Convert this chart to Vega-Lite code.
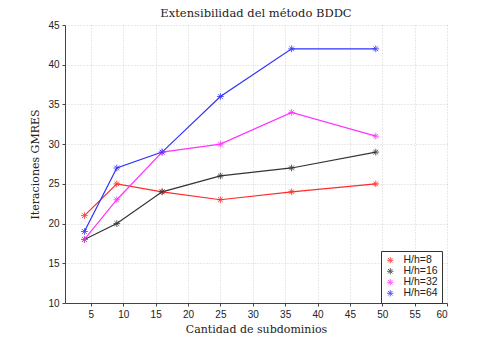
{
  "$schema": "https://vega.github.io/schema/vega-lite/v6.json",
  "width": 382,
  "height": 278,
  "autosize": "none",
  "padding": {"left": 65, "top": 25, "right": 47, "bottom": 37},
  "background": "white",
  "title": {"text": "Extensibilidad del método BDDC", "font": "DejaVu Serif", "fontSize": 11.5, "fontWeight": "normal", "color": "#222", "offset": 1},
  "data": {"values": [
    {"serie": "H/h=8", "n": 4, "it": 21}, {"serie": "H/h=8", "n": 9, "it": 25}, {"serie": "H/h=8", "n": 16, "it": 24}, {"serie": "H/h=8", "n": 25, "it": 23}, {"serie": "H/h=8", "n": 36, "it": 24}, {"serie": "H/h=8", "n": 49, "it": 25},
    {"serie": "H/h=16", "n": 4, "it": 18}, {"serie": "H/h=16", "n": 9, "it": 20}, {"serie": "H/h=16", "n": 16, "it": 24}, {"serie": "H/h=16", "n": 25, "it": 26}, {"serie": "H/h=16", "n": 36, "it": 27}, {"serie": "H/h=16", "n": 49, "it": 29},
    {"serie": "H/h=32", "n": 4, "it": 18}, {"serie": "H/h=32", "n": 9, "it": 23}, {"serie": "H/h=32", "n": 16, "it": 29}, {"serie": "H/h=32", "n": 25, "it": 30}, {"serie": "H/h=32", "n": 36, "it": 34}, {"serie": "H/h=32", "n": 49, "it": 31},
    {"serie": "H/h=64", "n": 4, "it": 19}, {"serie": "H/h=64", "n": 9, "it": 27}, {"serie": "H/h=64", "n": 16, "it": 29}, {"serie": "H/h=64", "n": 25, "it": 36}, {"serie": "H/h=64", "n": 36, "it": 42}, {"serie": "H/h=64", "n": 49, "it": 42}
  ]},
  "encoding": {
    "x": {"field": "n", "type": "quantitative", "scale": {"domain": [1, 60], "nice": false, "zero": false},
      "axis": {"title": "Cantidad de subdominios", "values": [5,10,15,20,25,30,35,40,45,50,55,60]}},
    "y": {"field": "it", "type": "quantitative", "scale": {"domain": [10, 45], "nice": false, "zero": false},
      "axis": {"title": "Iteraciones GMRES", "values": [10,15,20,25,30,35,40,45]}},
    "color": {"field": "serie", "type": "nominal",
      "scale": {"domain": ["H/h=8", "H/h=16", "H/h=32", "H/h=64"], "range": ["#ff2a2a", "#333333", "#ff33ff", "#3030ff"]},
      "legend": {"title": null, "orient": "none", "legendX": 316, "legendY": 226}}
  },
  "layer": [
    {"mark": {"type": "line", "strokeWidth": 1.2}},
    {"mark": {"type": "point", "filled": false, "strokeWidth": 1, "size": 45, "opacity": 0.8,
      "shape": "M-1,0L1,0M0,-1L0,1M-0.7,-0.7L0.7,0.7M-0.7,0.7L0.7,-0.7"}}
  ],
  "config": {
    "view": {"stroke": null},
    "axis": {
      "labelFont": "Liberation Sans", "labelFontSize": 10, "labelColor": "#222",
      "titleFont": "DejaVu Serif", "titleFontSize": 11, "titleFontWeight": "normal", "titleColor": "#222",
      "domainColor": "#444", "tickColor": "#444", "tickSize": 3,
      "grid": true, "gridColor": "#c8c8c8", "gridDash": [1, 2], "gridWidth": 0.8,
      "labelPadding": 3
    },
    "axisX": {"titlePadding": 4},
    "axisY": {"titlePadding": 7},
    "legend": {
      "symbolType": "M-1,0L1,0M0,-1L0,1M-0.7,-0.7L0.7,0.7M-0.7,0.7L0.7,-0.7",
      "symbolSize": 40, "symbolStrokeWidth": 1, "symbolFillColor": "transparent",
      "labelFont": "Liberation Sans", "labelFontSize": 10.5, "labelColor": "#222", "labelOffset": 8,
      "strokeColor": "#333", "fillColor": "white", "padding": 4, "rowPadding": 0, "cornerRadius": 0
    }
  }
}
